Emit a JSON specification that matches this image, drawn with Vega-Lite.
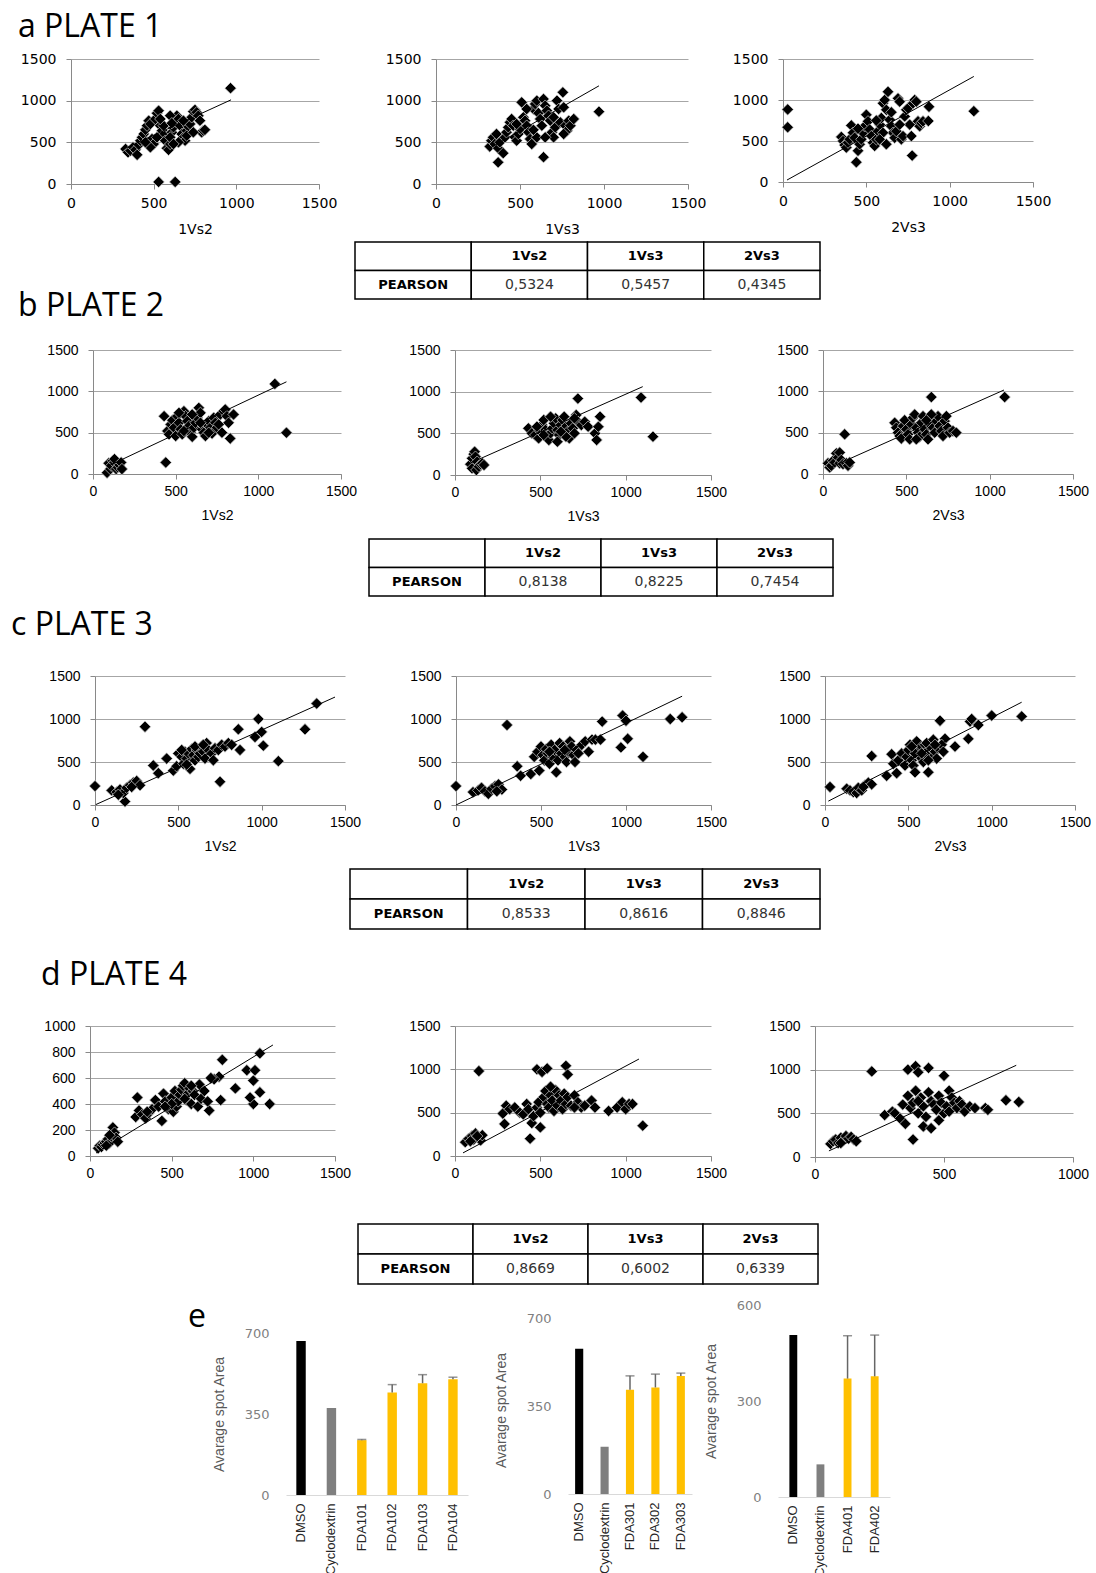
{
"$schema": "https://vega.github.io/schema/vega-lite/v6.json",
"background": "#ffffff",
"padding": 0,
"spacing": 0,
"config": {
  "view": {"stroke": null},
  "font": "DejaVu Sans",
  "axisX": {"grid": false, "domainColor": "#898989", "tickColor": "#898989", "tickSize": 5, "labelFont": "Liberation Sans", "labelFontSize": 14, "labelColor": "#000000", "labelPadding": 5, "labelFlush": false, "labelOverlap": false, "titleFont": "Liberation Sans", "titleFontSize": 14, "titleFontWeight": "normal", "titleColor": "#000000", "titlePadding": 10},
  "axisY": {"grid": true, "gridColor": "#a6a6a6", "domainColor": "#898989", "tickColor": "#898989", "tickSize": 5, "labelFont": "Liberation Sans", "labelFontSize": 14, "labelColor": "#000000", "labelPadding": 10, "labelOverlap": false, "titleFont": "Liberation Sans", "titleFontSize": 14, "titleFontWeight": "normal"}
},
"datasets": {
"a1": [{"x":965,"y":1150},{"x":530,"y":25},{"x":630,"y":25},{"x":330,"y":420},{"x":345,"y":380},{"x":360,"y":400},{"x":375,"y":440},{"x":390,"y":410},{"x":400,"y":350},{"x":410,"y":470},{"x":420,"y":520},{"x":430,"y":560},{"x":440,"y":600},{"x":450,"y":650},{"x":460,"y":700},{"x":470,"y":760},{"x":480,"y":720},{"x":490,"y":540},{"x":500,"y":480},{"x":510,"y":780},{"x":520,"y":850},{"x":530,"y":880},{"x":540,"y":700},{"x":550,"y":640},{"x":560,"y":590},{"x":570,"y":520},{"x":580,"y":430},{"x":590,"y":410},{"x":600,"y":480},{"x":610,"y":620},{"x":620,"y":680},{"x":630,"y":750},{"x":640,"y":820},{"x":650,"y":780},{"x":660,"y":700},{"x":670,"y":600},{"x":680,"y":560},{"x":690,"y":520},{"x":700,"y":640},{"x":710,"y":690},{"x":720,"y":720},{"x":730,"y":800},{"x":740,"y":870},{"x":750,"y":890},{"x":760,"y":860},{"x":770,"y":820},{"x":780,"y":760},{"x":790,"y":620},{"x":800,"y":640},{"x":810,"y":650},{"x":650,"y":500},{"x":600,"y":560},{"x":560,"y":700},{"x":520,"y":560},{"x":480,"y":440},{"x":450,"y":500},{"x":620,"y":480},{"x":700,"y":580},{"x":740,"y":620},{"x":680,"y":760},{"x":540,"y":780},{"x":600,"y":820},{"x":610,"y":730}],
"a1t": [{"x":330,"y":430},{"x":968,"y":1010}],
"a2": [{"x":370,"y":260},{"x":640,"y":322},{"x":755,"y":1100},{"x":970,"y":868},{"x":320,"y":450},{"x":330,"y":520},{"x":340,"y":560},{"x":350,"y":480},{"x":360,"y":600},{"x":370,"y":430},{"x":380,"y":500},{"x":400,"y":370},{"x":410,"y":560},{"x":420,"y":620},{"x":430,"y":680},{"x":440,"y":740},{"x":450,"y":780},{"x":460,"y":700},{"x":470,"y":560},{"x":480,"y":520},{"x":490,"y":600},{"x":500,"y":660},{"x":510,"y":980},{"x":520,"y":800},{"x":530,"y":760},{"x":540,"y":700},{"x":550,"y":620},{"x":560,"y":540},{"x":570,"y":480},{"x":580,"y":900},{"x":590,"y":960},{"x":600,"y":1000},{"x":610,"y":850},{"x":620,"y":780},{"x":630,"y":700},{"x":640,"y":1020},{"x":650,"y":940},{"x":660,"y":880},{"x":670,"y":820},{"x":680,"y":760},{"x":690,"y":620},{"x":700,"y":560},{"x":710,"y":680},{"x":720,"y":1000},{"x":730,"y":900},{"x":740,"y":740},{"x":760,"y":920},{"x":770,"y":700},{"x":780,"y":640},{"x":790,"y":760},{"x":800,"y":700},{"x":820,"y":780},{"x":760,"y":600},{"x":600,"y":560},{"x":540,"y":900},{"x":480,"y":720},{"x":650,"y":560},{"x":700,"y":800},{"x":580,"y":650}],
"a2t": [{"x":320,"y":430},{"x":970,"y":1178}],
"a3": [{"x":28,"y":885},{"x":28,"y":667},{"x":1145,"y":864},{"x":350,"y":550},{"x":360,"y":500},{"x":370,"y":450},{"x":380,"y":420},{"x":390,"y":480},{"x":400,"y":520},{"x":410,"y":690},{"x":420,"y":600},{"x":430,"y":540},{"x":440,"y":241},{"x":450,"y":380},{"x":460,"y":460},{"x":470,"y":520},{"x":480,"y":600},{"x":490,"y":680},{"x":500,"y":820},{"x":510,"y":740},{"x":520,"y":640},{"x":530,"y":560},{"x":540,"y":480},{"x":550,"y":440},{"x":560,"y":520},{"x":570,"y":620},{"x":580,"y":700},{"x":590,"y":780},{"x":600,"y":960},{"x":610,"y":1000},{"x":620,"y":880},{"x":630,"y":1100},{"x":640,"y":760},{"x":650,"y":680},{"x":660,"y":600},{"x":670,"y":540},{"x":680,"y":620},{"x":690,"y":1020},{"x":700,"y":980},{"x":710,"y":520},{"x":720,"y":560},{"x":730,"y":800},{"x":740,"y":880},{"x":750,"y":900},{"x":760,"y":700},{"x":770,"y":560},{"x":780,"y":960},{"x":790,"y":1000},{"x":800,"y":980},{"x":810,"y":740},{"x":820,"y":680},{"x":830,"y":720},{"x":840,"y":740},{"x":775,"y":322},{"x":876,"y":917},{"x":872,"y":744},{"x":600,"y":600},{"x":650,"y":850},{"x":700,"y":700},{"x":560,"y":750},{"x":450,"y":650},{"x":620,"y":460},{"x":580,"y":520}],
"a3t": [{"x":24,"y":24},{"x":1145,"y":1287}],
"b1": [{"x":85,"y":15},{"x":95,"y":130},{"x":105,"y":60},{"x":110,"y":100},{"x":120,"y":160},{"x":130,"y":140},{"x":130,"y":180},{"x":140,"y":60},{"x":150,"y":80},{"x":160,"y":110},{"x":170,"y":140},{"x":175,"y":60},{"x":440,"y":140},{"x":1100,"y":1090},{"x":1170,"y":500},{"x":430,"y":700},{"x":450,"y":520},{"x":460,"y":480},{"x":470,"y":600},{"x":480,"y":650},{"x":490,"y":560},{"x":500,"y":460},{"x":510,"y":700},{"x":520,"y":620},{"x":530,"y":540},{"x":540,"y":480},{"x":550,"y":760},{"x":560,"y":700},{"x":570,"y":640},{"x":580,"y":580},{"x":590,"y":500},{"x":600,"y":450},{"x":610,"y":560},{"x":620,"y":620},{"x":630,"y":680},{"x":640,"y":800},{"x":650,"y":740},{"x":660,"y":540},{"x":670,"y":500},{"x":680,"y":460},{"x":690,"y":600},{"x":700,"y":640},{"x":710,"y":560},{"x":720,"y":490},{"x":730,"y":680},{"x":740,"y":620},{"x":750,"y":560},{"x":770,"y":720},{"x":780,"y":500},{"x":790,"y":760},{"x":800,"y":780},{"x":810,"y":700},{"x":820,"y":620},{"x":830,"y":430},{"x":850,"y":720},{"x":600,"y":720},{"x":550,"y":520},{"x":650,"y":620},{"x":700,"y":500},{"x":520,"y":740},{"x":760,"y":600}],
"b1t": [{"x":85,"y":90},{"x":1170,"y":1115}],
"b2": [{"x":90,"y":130},{"x":100,"y":200},{"x":100,"y":80},{"x":110,"y":250},{"x":115,"y":280},{"x":120,"y":220},{"x":125,"y":60},{"x":130,"y":160},{"x":140,"y":100},{"x":150,"y":130},{"x":160,"y":140},{"x":170,"y":120},{"x":720,"y":917},{"x":1090,"y":930},{"x":1160,"y":460},{"x":430,"y":560},{"x":450,"y":500},{"x":470,"y":480},{"x":490,"y":440},{"x":500,"y":520},{"x":510,"y":600},{"x":520,"y":660},{"x":530,"y":540},{"x":540,"y":470},{"x":550,"y":420},{"x":560,"y":500},{"x":570,"y":560},{"x":580,"y":620},{"x":590,"y":680},{"x":600,"y":540},{"x":610,"y":480},{"x":620,"y":600},{"x":630,"y":660},{"x":640,"y":700},{"x":650,"y":580},{"x":660,"y":520},{"x":670,"y":440},{"x":680,"y":620},{"x":690,"y":560},{"x":700,"y":500},{"x":710,"y":720},{"x":720,"y":640},{"x":740,"y":600},{"x":760,"y":640},{"x":780,"y":580},{"x":820,"y":500},{"x":830,"y":420},{"x":840,"y":580},{"x":850,"y":700},{"x":560,"y":700},{"x":600,"y":400},{"x":650,"y":460},{"x":700,"y":680},{"x":520,"y":480},{"x":480,"y":580},{"x":620,"y":520}],
"b2t": [{"x":82,"y":136},{"x":1100,"y":1060}],
"b3": [{"x":30,"y":130},{"x":40,"y":80},{"x":50,"y":100},{"x":60,"y":160},{"x":70,"y":140},{"x":80,"y":250},{"x":90,"y":200},{"x":100,"y":260},{"x":100,"y":130},{"x":110,"y":170},{"x":120,"y":120},{"x":130,"y":480},{"x":140,"y":130},{"x":150,"y":100},{"x":160,"y":140},{"x":1090,"y":930},{"x":650,"y":930},{"x":430,"y":620},{"x":440,"y":560},{"x":450,"y":500},{"x":460,"y":460},{"x":470,"y":430},{"x":480,"y":580},{"x":490,"y":650},{"x":500,"y":540},{"x":510,"y":480},{"x":520,"y":420},{"x":530,"y":600},{"x":540,"y":680},{"x":550,"y":720},{"x":560,"y":560},{"x":570,"y":500},{"x":580,"y":450},{"x":590,"y":620},{"x":600,"y":700},{"x":610,"y":540},{"x":620,"y":480},{"x":630,"y":420},{"x":640,"y":600},{"x":660,"y":560},{"x":670,"y":500},{"x":680,"y":640},{"x":690,"y":700},{"x":700,"y":580},{"x":710,"y":520},{"x":720,"y":460},{"x":730,"y":640},{"x":740,"y":700},{"x":750,"y":560},{"x":760,"y":500},{"x":780,"y":520},{"x":800,"y":500},{"x":650,"y":720},{"x":560,"y":420},{"x":620,"y":650}],
"b3t": [{"x":36,"y":73},{"x":1086,"y":1016}],
"c1": [{"x":0,"y":220},{"x":300,"y":910},{"x":750,"y":270},{"x":1100,"y":510},{"x":1260,"y":880},{"x":1330,"y":1180},{"x":980,"y":1000},{"x":1000,"y":850},{"x":1010,"y":690},{"x":960,"y":790},{"x":180,"y":40},{"x":100,"y":170},{"x":130,"y":150},{"x":150,"y":180},{"x":170,"y":140},{"x":190,"y":200},{"x":210,"y":230},{"x":230,"y":260},{"x":250,"y":280},{"x":270,"y":230},{"x":220,"y":210},{"x":140,"y":120},{"x":350,"y":460},{"x":380,"y":370},{"x":430,"y":540},{"x":470,"y":400},{"x":490,"y":450},{"x":500,"y":600},{"x":520,"y":560},{"x":530,"y":480},{"x":540,"y":620},{"x":550,"y":540},{"x":560,"y":600},{"x":570,"y":420},{"x":580,"y":650},{"x":590,"y":580},{"x":600,"y":520},{"x":610,"y":640},{"x":620,"y":560},{"x":630,"y":600},{"x":640,"y":680},{"x":650,"y":620},{"x":660,"y":540},{"x":670,"y":720},{"x":680,"y":640},{"x":700,"y":600},{"x":710,"y":520},{"x":720,"y":660},{"x":740,"y":640},{"x":760,"y":700},{"x":780,"y":680},{"x":800,"y":720},{"x":820,"y":700},{"x":860,"y":880},{"x":870,"y":640},{"x":550,"y":470},{"x":600,"y":680},{"x":650,"y":700},{"x":520,"y":640}],
"c1t": [{"x":5,"y":5},{"x":1440,"y":1255}],
"c2": [{"x":300,"y":930},{"x":1100,"y":560},{"x":1260,"y":1000},{"x":1330,"y":1020},{"x":980,"y":1040},{"x":1000,"y":980},{"x":1010,"y":770},{"x":970,"y":670},{"x":860,"y":970},{"x":0,"y":220},{"x":100,"y":150},{"x":130,"y":170},{"x":150,"y":200},{"x":170,"y":160},{"x":190,"y":130},{"x":210,"y":190},{"x":230,"y":220},{"x":250,"y":240},{"x":270,"y":180},{"x":240,"y":160},{"x":360,"y":450},{"x":380,"y":340},{"x":440,"y":360},{"x":460,"y":560},{"x":480,"y":620},{"x":490,"y":400},{"x":500,"y":680},{"x":510,"y":580},{"x":520,"y":520},{"x":530,"y":650},{"x":540,"y":600},{"x":550,"y":480},{"x":560,"y":700},{"x":570,"y":560},{"x":580,"y":640},{"x":590,"y":380},{"x":600,"y":520},{"x":610,"y":720},{"x":620,"y":600},{"x":630,"y":680},{"x":640,"y":560},{"x":650,"y":500},{"x":660,"y":620},{"x":670,"y":740},{"x":680,"y":680},{"x":690,"y":580},{"x":700,"y":500},{"x":710,"y":640},{"x":720,"y":600},{"x":740,"y":700},{"x":760,"y":740},{"x":780,"y":620},{"x":800,"y":760},{"x":820,"y":760},{"x":850,"y":760},{"x":550,"y":620},{"x":640,"y":640}],
"c2t": [{"x":0,"y":0},{"x":1330,"y":1265}],
"c3": [{"x":30,"y":210},{"x":280,"y":570},{"x":690,"y":980},{"x":870,"y":970},{"x":880,"y":1000},{"x":1000,"y":1040},{"x":1180,"y":1030},{"x":860,"y":770},{"x":920,"y":930},{"x":780,"y":680},{"x":720,"y":770},{"x":130,"y":190},{"x":150,"y":170},{"x":170,"y":150},{"x":190,"y":140},{"x":200,"y":200},{"x":220,"y":170},{"x":240,"y":230},{"x":260,"y":260},{"x":280,"y":240},{"x":230,"y":210},{"x":370,"y":340},{"x":400,"y":590},{"x":410,"y":480},{"x":430,"y":370},{"x":440,"y":520},{"x":460,"y":600},{"x":480,"y":460},{"x":490,"y":560},{"x":500,"y":640},{"x":510,"y":700},{"x":520,"y":520},{"x":530,"y":460},{"x":540,"y":380},{"x":550,"y":740},{"x":560,"y":620},{"x":570,"y":560},{"x":580,"y":680},{"x":590,"y":500},{"x":600,"y":700},{"x":610,"y":720},{"x":620,"y":380},{"x":630,"y":640},{"x":640,"y":580},{"x":650,"y":760},{"x":660,"y":620},{"x":670,"y":540},{"x":680,"y":660},{"x":700,"y":700},{"x":710,"y":620},{"x":540,"y":600},{"x":600,"y":600},{"x":620,"y":520},{"x":660,"y":700},{"x":520,"y":680},{"x":580,"y":600}],
"c3t": [{"x":20,"y":45},{"x":1180,"y":1195}],
"d1": [{"x":50,"y":60},{"x":60,"y":80},{"x":70,"y":70},{"x":80,"y":90},{"x":90,"y":100},{"x":100,"y":110},{"x":110,"y":130},{"x":120,"y":100},{"x":130,"y":150},{"x":140,"y":220},{"x":150,"y":180},{"x":160,"y":140},{"x":170,"y":110},{"x":120,"y":160},{"x":100,"y":80},{"x":1040,"y":790},{"x":810,"y":740},{"x":1100,"y":400},{"x":1040,"y":490},{"x":1000,"y":400},{"x":980,"y":450},{"x":960,"y":660},{"x":1010,"y":660},{"x":1000,"y":580},{"x":890,"y":520},{"x":730,"y":350},{"x":800,"y":430},{"x":790,"y":610},{"x":760,"y":590},{"x":280,"y":300},{"x":290,"y":450},{"x":300,"y":350},{"x":320,"y":320},{"x":340,"y":290},{"x":360,"y":330},{"x":380,"y":360},{"x":400,"y":430},{"x":420,"y":380},{"x":440,"y":270},{"x":450,"y":480},{"x":460,"y":420},{"x":480,"y":360},{"x":500,"y":450},{"x":510,"y":340},{"x":520,"y":500},{"x":530,"y":380},{"x":540,"y":420},{"x":550,"y":470},{"x":560,"y":510},{"x":570,"y":540},{"x":580,"y":560},{"x":590,"y":430},{"x":600,"y":480},{"x":610,"y":520},{"x":620,"y":400},{"x":630,"y":500},{"x":640,"y":470},{"x":660,"y":380},{"x":670,"y":550},{"x":680,"y":440},{"x":700,"y":500},{"x":720,"y":420},{"x":740,"y":600},{"x":580,"y":440},{"x":500,"y":400},{"x":620,"y":540},{"x":460,"y":380},{"x":350,"y":340}],
"d1t": [{"x":37,"y":23},{"x":1120,"y":854}],
"d2": [{"x":60,"y":160},{"x":80,"y":200},{"x":100,"y":230},{"x":120,"y":260},{"x":140,"y":210},{"x":150,"y":180},{"x":160,"y":240},{"x":110,"y":190},{"x":90,"y":170},{"x":130,"y":230},{"x":140,"y":980},{"x":1100,"y":350},{"x":440,"y":200},{"x":480,"y":1000},{"x":510,"y":970},{"x":540,"y":1010},{"x":650,"y":1040},{"x":660,"y":940},{"x":500,"y":330},{"x":280,"y":490},{"x":300,"y":580},{"x":290,"y":370},{"x":320,"y":540},{"x":350,"y":560},{"x":380,"y":500},{"x":400,"y":480},{"x":420,"y":600},{"x":430,"y":540},{"x":450,"y":380},{"x":460,"y":460},{"x":480,"y":560},{"x":490,"y":620},{"x":500,"y":500},{"x":520,"y":680},{"x":530,"y":750},{"x":540,"y":600},{"x":550,"y":560},{"x":560,"y":700},{"x":570,"y":640},{"x":580,"y":520},{"x":590,"y":760},{"x":600,"y":580},{"x":610,"y":700},{"x":620,"y":640},{"x":630,"y":540},{"x":640,"y":720},{"x":650,"y":600},{"x":660,"y":680},{"x":680,"y":580},{"x":700,"y":700},{"x":720,"y":620},{"x":740,"y":560},{"x":760,"y":580},{"x":800,"y":640},{"x":820,"y":560},{"x":900,"y":520},{"x":950,"y":560},{"x":980,"y":620},{"x":1000,"y":540},{"x":1020,"y":600},{"x":1040,"y":600},{"x":700,"y":560},{"x":560,"y":800}],
"d2t": [{"x":47,"y":36},{"x":1078,"y":1119}],
"d3": [{"x":60,"y":150},{"x":70,"y":180},{"x":80,"y":200},{"x":90,"y":160},{"x":100,"y":220},{"x":110,"y":190},{"x":120,"y":240},{"x":130,"y":210},{"x":140,"y":230},{"x":150,"y":200},{"x":160,"y":180},{"x":100,"y":160},{"x":220,"y":980},{"x":360,"y":1000},{"x":390,"y":1040},{"x":400,"y":970},{"x":440,"y":1020},{"x":500,"y":930},{"x":380,"y":200},{"x":420,"y":350},{"x":450,"y":330},{"x":740,"y":650},{"x":790,"y":630},{"x":270,"y":480},{"x":300,"y":520},{"x":310,"y":500},{"x":330,"y":440},{"x":340,"y":600},{"x":350,"y":380},{"x":360,"y":700},{"x":370,"y":560},{"x":380,"y":620},{"x":390,"y":760},{"x":400,"y":500},{"x":410,"y":680},{"x":420,"y":580},{"x":430,"y":460},{"x":440,"y":740},{"x":450,"y":640},{"x":460,"y":600},{"x":470,"y":540},{"x":480,"y":700},{"x":490,"y":620},{"x":500,"y":500},{"x":510,"y":580},{"x":520,"y":760},{"x":530,"y":680},{"x":540,"y":620},{"x":550,"y":560},{"x":560,"y":640},{"x":570,"y":600},{"x":580,"y":520},{"x":600,"y":580},{"x":620,"y":560},{"x":660,"y":560},{"x":670,"y":540},{"x":480,"y":420},{"x":400,"y":640},{"x":520,"y":520}],
"d3t": [{"x":54,"y":70},{"x":780,"y":1050}],
"ta": [{"c":"c1","r":"r1","t":"","b":1},{"c":"c2","r":"r1","t":"1Vs2","b":1},{"c":"c3","r":"r1","t":"1Vs3","b":1},{"c":"c4","r":"r1","t":"2Vs3","b":1},{"c":"c1","r":"r2","t":"PEARSON","b":1},{"c":"c2","r":"r2","t":"0,5324","b":0},{"c":"c3","r":"r2","t":"0,5457","b":0},{"c":"c4","r":"r2","t":"0,4345","b":0}],
"tb": [{"c":"c1","r":"r1","t":"","b":1},{"c":"c2","r":"r1","t":"1Vs2","b":1},{"c":"c3","r":"r1","t":"1Vs3","b":1},{"c":"c4","r":"r1","t":"2Vs3","b":1},{"c":"c1","r":"r2","t":"PEARSON","b":1},{"c":"c2","r":"r2","t":"0,8138","b":0},{"c":"c3","r":"r2","t":"0,8225","b":0},{"c":"c4","r":"r2","t":"0,7454","b":0}],
"tc": [{"c":"c1","r":"r1","t":"","b":1},{"c":"c2","r":"r1","t":"1Vs2","b":1},{"c":"c3","r":"r1","t":"1Vs3","b":1},{"c":"c4","r":"r1","t":"2Vs3","b":1},{"c":"c1","r":"r2","t":"PEARSON","b":1},{"c":"c2","r":"r2","t":"0,8533","b":0},{"c":"c3","r":"r2","t":"0,8616","b":0},{"c":"c4","r":"r2","t":"0,8846","b":0}],
"td": [{"c":"c1","r":"r1","t":"","b":1},{"c":"c2","r":"r1","t":"1Vs2","b":1},{"c":"c3","r":"r1","t":"1Vs3","b":1},{"c":"c4","r":"r1","t":"2Vs3","b":1},{"c":"c1","r":"r2","t":"PEARSON","b":1},{"c":"c2","r":"r2","t":"0,8669","b":0},{"c":"c3","r":"r2","t":"0,6002","b":0},{"c":"c4","r":"r2","t":"0,6339","b":0}],
"e1": [{"k":"DMSO","g":"D","v":665},{"k":"Cyclodextrin","g":"C","v":376},{"k":"FDA101","g":"F","v":237,"hi":240},{"k":"FDA102","g":"F","v":443,"hi":477},{"k":"FDA103","g":"F","v":483,"hi":520},{"k":"FDA104","g":"F","v":500,"hi":509}],
"e2": [{"k":"DMSO","g":"D","v":578},{"k":"Cyclodextrin","g":"C","v":188},{"k":"FDA301","g":"F","v":415,"hi":470},{"k":"FDA302","g":"F","v":424,"hi":477},{"k":"FDA303","g":"F","v":470,"hi":481}],
"e3": [{"k":"DMSO","g":"D","v":506},{"k":"Cyclodextrin","g":"C","v":102},{"k":"FDA401","g":"F","v":370,"hi":504},{"k":"FDA402","g":"F","v":377,"hi":506}],
"sp": [{"z":0}]
},
"vconcat": [
{"width":1,"height":1,"data":{"name":"sp"},"mark":{"type":"point","opacity":0},"encoding":{},
 "title":{"text":"a PLATE 1","orient":"bottom","anchor":"start","frame":"group","dx":15,"offset":31,"baseline":"alphabetic","font":"Open Sans","fontSize":32,"fontWeight":"normal","color":"#000000"}},
{"width":1,"height":8,"data":{"name":"sp"},"mark":{"type":"point","opacity":0},"encoding":{}},
{"bounds":"flush","spacing":0,"hconcat":[
  {"width":68,"height":182,"data":{"name":"sp"},"mark":{"type":"point","opacity":0},"encoding":{}},
  {"width":248,"height":125,
   "layer":[
    {"data":{"name":"a1"},"mark":{"type":"point","shape":"diamond","filled":true,"size":130,"fill":"#000000","stroke":"#d0d0d0","strokeWidth":0.7,"opacity":1},
     "encoding":{"x":{"field":"x","type":"quantitative","scale":{"domain":[0,1500],"nice":false},"axis":{"values":[0,500,1000,1500],"format":"d","title":"1Vs2","labelFont":"DejaVu Sans","labelFontSize":14,"titleFont":"DejaVu Sans","titleFontSize":14,"labelPadding":7,"titlePadding":12}},
                 "y":{"field":"y","type":"quantitative","scale":{"domain":[0,1500],"nice":false},"axis":{"values":[0,500,1000,1500],"format":"d","title":null,"labelFont":"DejaVu Sans","labelFontSize":14}}}},
    {"data":{"name":"a1t"},"mark":{"type":"line","color":"#000000","strokeWidth":1},"encoding":{"x":{"field":"x","type":"quantitative"},"y":{"field":"y","type":"quantitative"}}}
   ]},
  {"width":117,"height":1,"data":{"name":"sp"},"mark":{"type":"point","opacity":0},"encoding":{}},
  {"width":252,"height":125,
   "layer":[
    {"data":{"name":"a2"},"mark":{"type":"point","shape":"diamond","filled":true,"size":130,"fill":"#000000","stroke":"#d0d0d0","strokeWidth":0.7,"opacity":1},
     "encoding":{"x":{"field":"x","type":"quantitative","scale":{"domain":[0,1500],"nice":false},"axis":{"values":[0,500,1000,1500],"format":"d","title":"1Vs3","labelFont":"DejaVu Sans","labelFontSize":14,"titleFont":"DejaVu Sans","titleFontSize":14,"labelPadding":7,"titlePadding":12}},
                 "y":{"field":"y","type":"quantitative","scale":{"domain":[0,1500],"nice":false},"axis":{"values":[0,500,1000,1500],"format":"d","title":null,"labelFont":"DejaVu Sans","labelFontSize":14}}}},
    {"data":{"name":"a2t"},"mark":{"type":"line","color":"#000000","strokeWidth":1},"encoding":{"x":{"field":"x","type":"quantitative"},"y":{"field":"y","type":"quantitative"}}}
   ]},
  {"width":95,"height":1,"data":{"name":"sp"},"mark":{"type":"point","opacity":0},"encoding":{}},
  {"width":250,"height":123,
   "layer":[
    {"data":{"name":"a3"},"mark":{"type":"point","shape":"diamond","filled":true,"size":130,"fill":"#000000","stroke":"#d0d0d0","strokeWidth":0.7,"opacity":1},
     "encoding":{"x":{"field":"x","type":"quantitative","scale":{"domain":[0,1500],"nice":false},"axis":{"values":[0,500,1000,1500],"format":"d","title":"2Vs3","labelFont":"DejaVu Sans","labelFontSize":14,"titleFont":"DejaVu Sans","titleFontSize":14,"labelPadding":7,"titlePadding":12}},
                 "y":{"field":"y","type":"quantitative","scale":{"domain":[0,1500],"nice":false},"axis":{"values":[0,500,1000,1500],"format":"d","title":null,"labelFont":"DejaVu Sans","labelFontSize":14}}}},
    {"data":{"name":"a3t"},"mark":{"type":"line","color":"#000000","strokeWidth":1},"encoding":{"x":{"field":"x","type":"quantitative"},"y":{"field":"y","type":"quantitative"}}}
   ]}
]},
{"bounds":"flush","spacing":0,"hconcat":[
  {"width":352,"height":57,"data":{"name":"sp"},"mark":{"type":"point","opacity":0},"encoding":{},
   "title":{"text":"b PLATE 2","orient":"bottom","anchor":"start","frame":"group","dx":15,"offset":17,"baseline":"alphabetic","font":"Open Sans","fontSize":32,"fontWeight":"normal","color":"#000000"}},
  {"width":465,"height":57,"data":{"name":"ta"},"layer":[
    {"mark":{"type":"rect","fill":"#ffffff","stroke":"#000000","strokeWidth":1.5},"encoding":{"x":{"field":"c","type":"nominal","axis":null,"scale":{"paddingInner":0,"paddingOuter":0}},"y":{"field":"r","type":"nominal","axis":null,"scale":{"paddingInner":0,"paddingOuter":0}}}},
    {"transform":[{"filter":"datum.b == 1"}],"mark":{"type":"text","font":"DejaVu Sans","fontSize":13,"fontWeight":"bold","color":"#000000"},"encoding":{"x":{"field":"c","type":"nominal","axis":null},"y":{"field":"r","type":"nominal","axis":null},"text":{"field":"t","type":"nominal"}}},
    {"transform":[{"filter":"datum.b == 0"}],"mark":{"type":"text","font":"DejaVu Sans","fontSize":14,"color":"#333333"},"encoding":{"x":{"field":"c","type":"nominal","axis":null},"y":{"field":"r","type":"nominal","axis":null},"text":{"field":"t","type":"nominal"}}}
  ]}
]},
{"width":1,"height":21,"data":{"name":"sp"},"mark":{"type":"point","opacity":0},"encoding":{}},
{"bounds":"flush","spacing":0,"hconcat":[
  {"width":90,"height":188,"data":{"name":"sp"},"mark":{"type":"point","opacity":0},"encoding":{}},
  {"width":248,"height":124,
   "layer":[
    {"data":{"name":"b1"},"mark":{"type":"point","shape":"diamond","filled":true,"size":130,"fill":"#000000","stroke":"#d0d0d0","strokeWidth":0.7,"opacity":1},
     "encoding":{"x":{"field":"x","type":"quantitative","scale":{"domain":[0,1500],"nice":false},"axis":{"values":[0,500,1000,1500],"format":"d","title":"1Vs2"}},
                 "y":{"field":"y","type":"quantitative","scale":{"domain":[0,1500],"nice":false},"axis":{"values":[0,500,1000,1500],"format":"d","title":null}}}},
    {"data":{"name":"b1t"},"mark":{"type":"line","color":"#000000","strokeWidth":1},"encoding":{"x":{"field":"x","type":"quantitative"},"y":{"field":"y","type":"quantitative"}}}
   ]},
  {"width":114,"height":1,"data":{"name":"sp"},"mark":{"type":"point","opacity":0},"encoding":{}},
  {"width":256,"height":125,
   "layer":[
    {"data":{"name":"b2"},"mark":{"type":"point","shape":"diamond","filled":true,"size":130,"fill":"#000000","stroke":"#d0d0d0","strokeWidth":0.7,"opacity":1},
     "encoding":{"x":{"field":"x","type":"quantitative","scale":{"domain":[0,1500],"nice":false},"axis":{"values":[0,500,1000,1500],"format":"d","title":"1Vs3"}},
                 "y":{"field":"y","type":"quantitative","scale":{"domain":[0,1500],"nice":false},"axis":{"values":[0,500,1000,1500],"format":"d","title":null}}}},
    {"data":{"name":"b2t"},"mark":{"type":"line","color":"#000000","strokeWidth":1},"encoding":{"x":{"field":"x","type":"quantitative"},"y":{"field":"y","type":"quantitative"}}}
   ]},
  {"width":112,"height":1,"data":{"name":"sp"},"mark":{"type":"point","opacity":0},"encoding":{}},
  {"width":250,"height":124,
   "layer":[
    {"data":{"name":"b3"},"mark":{"type":"point","shape":"diamond","filled":true,"size":130,"fill":"#000000","stroke":"#d0d0d0","strokeWidth":0.7,"opacity":1},
     "encoding":{"x":{"field":"x","type":"quantitative","scale":{"domain":[0,1500],"nice":false},"axis":{"values":[0,500,1000,1500],"format":"d","title":"2Vs3"}},
                 "y":{"field":"y","type":"quantitative","scale":{"domain":[0,1500],"nice":false},"axis":{"values":[0,500,1000,1500],"format":"d","title":null}}}},
    {"data":{"name":"b3t"},"mark":{"type":"line","color":"#000000","strokeWidth":1},"encoding":{"x":{"field":"x","type":"quantitative"},"y":{"field":"y","type":"quantitative"}}}
   ]}
]},
{"bounds":"flush","spacing":0,"hconcat":[
  {"width":366,"height":57,"data":{"name":"sp"},"mark":{"type":"point","opacity":0},"encoding":{},
   "title":{"text":"c PLATE 3","orient":"bottom","anchor":"start","frame":"group","dx":8,"offset":39,"baseline":"alphabetic","font":"Open Sans","fontSize":32,"fontWeight":"normal","color":"#000000"}},
  {"width":464,"height":57,"data":{"name":"tb"},"layer":[
    {"mark":{"type":"rect","fill":"#ffffff","stroke":"#000000","strokeWidth":1.5},"encoding":{"x":{"field":"c","type":"nominal","axis":null,"scale":{"paddingInner":0,"paddingOuter":0}},"y":{"field":"r","type":"nominal","axis":null,"scale":{"paddingInner":0,"paddingOuter":0}}}},
    {"transform":[{"filter":"datum.b == 1"}],"mark":{"type":"text","font":"DejaVu Sans","fontSize":13,"fontWeight":"bold","color":"#000000"},"encoding":{"x":{"field":"c","type":"nominal","axis":null},"y":{"field":"r","type":"nominal","axis":null},"text":{"field":"t","type":"nominal"}}},
    {"transform":[{"filter":"datum.b == 0"}],"mark":{"type":"text","font":"DejaVu Sans","fontSize":14,"color":"#333333"},"encoding":{"x":{"field":"c","type":"nominal","axis":null},"y":{"field":"r","type":"nominal","axis":null},"text":{"field":"t","type":"nominal"}}}
  ]}
]},
{"width":1,"height":28,"data":{"name":"sp"},"mark":{"type":"point","opacity":0},"encoding":{}},
{"bounds":"flush","spacing":0,"hconcat":[
  {"width":92,"height":192,"data":{"name":"sp"},"mark":{"type":"point","opacity":0},"encoding":{}},
  {"width":250,"height":129,
   "layer":[
    {"data":{"name":"c1"},"mark":{"type":"point","shape":"diamond","filled":true,"size":130,"fill":"#000000","stroke":"#d0d0d0","strokeWidth":0.7,"opacity":1},
     "encoding":{"x":{"field":"x","type":"quantitative","scale":{"domain":[0,1500],"nice":false},"axis":{"values":[0,500,1000,1500],"format":"d","title":"1Vs2"}},
                 "y":{"field":"y","type":"quantitative","scale":{"domain":[0,1500],"nice":false},"axis":{"values":[0,500,1000,1500],"format":"d","title":null}}}},
    {"data":{"name":"c1t"},"mark":{"type":"line","color":"#000000","strokeWidth":1},"encoding":{"x":{"field":"x","type":"quantitative"},"y":{"field":"y","type":"quantitative"}}}
   ]},
  {"width":111,"height":1,"data":{"name":"sp"},"mark":{"type":"point","opacity":0},"encoding":{}},
  {"width":255,"height":129,
   "layer":[
    {"data":{"name":"c2"},"mark":{"type":"point","shape":"diamond","filled":true,"size":130,"fill":"#000000","stroke":"#d0d0d0","strokeWidth":0.7,"opacity":1},
     "encoding":{"x":{"field":"x","type":"quantitative","scale":{"domain":[0,1500],"nice":false},"axis":{"values":[0,500,1000,1500],"format":"d","title":"1Vs3"}},
                 "y":{"field":"y","type":"quantitative","scale":{"domain":[0,1500],"nice":false},"axis":{"values":[0,500,1000,1500],"format":"d","title":null}}}},
    {"data":{"name":"c2t"},"mark":{"type":"line","color":"#000000","strokeWidth":1},"encoding":{"x":{"field":"x","type":"quantitative"},"y":{"field":"y","type":"quantitative"}}}
   ]},
  {"width":114,"height":1,"data":{"name":"sp"},"mark":{"type":"point","opacity":0},"encoding":{}},
  {"width":250,"height":129,
   "layer":[
    {"data":{"name":"c3"},"mark":{"type":"point","shape":"diamond","filled":true,"size":130,"fill":"#000000","stroke":"#d0d0d0","strokeWidth":0.7,"opacity":1},
     "encoding":{"x":{"field":"x","type":"quantitative","scale":{"domain":[0,1500],"nice":false},"axis":{"values":[0,500,1000,1500],"format":"d","title":"2Vs3"}},
                 "y":{"field":"y","type":"quantitative","scale":{"domain":[0,1500],"nice":false},"axis":{"values":[0,500,1000,1500],"format":"d","title":null}}}},
    {"data":{"name":"c3t"},"mark":{"type":"line","color":"#000000","strokeWidth":1},"encoding":{"x":{"field":"x","type":"quantitative"},"y":{"field":"y","type":"quantitative"}}}
   ]}
]},
{"bounds":"flush","spacing":0,"hconcat":[
  {"width":347,"height":60,"data":{"name":"sp"},"mark":{"type":"point","opacity":0},"encoding":{},
   "title":{"text":"d PLATE 4","orient":"bottom","anchor":"start","frame":"group","dx":38,"offset":56,"baseline":"alphabetic","font":"Open Sans","fontSize":32,"fontWeight":"normal","color":"#000000"}},
  {"width":470,"height":60,"data":{"name":"tc"},"layer":[
    {"mark":{"type":"rect","fill":"#ffffff","stroke":"#000000","strokeWidth":1.5},"encoding":{"x":{"field":"c","type":"nominal","axis":null,"scale":{"paddingInner":0,"paddingOuter":0}},"y":{"field":"r","type":"nominal","axis":null,"scale":{"paddingInner":0,"paddingOuter":0}}}},
    {"transform":[{"filter":"datum.b == 1"}],"mark":{"type":"text","font":"DejaVu Sans","fontSize":13,"fontWeight":"bold","color":"#000000"},"encoding":{"x":{"field":"c","type":"nominal","axis":null},"y":{"field":"r","type":"nominal","axis":null},"text":{"field":"t","type":"nominal"}}},
    {"transform":[{"filter":"datum.b == 0"}],"mark":{"type":"text","font":"DejaVu Sans","fontSize":14,"color":"#333333"},"encoding":{"x":{"field":"c","type":"nominal","axis":null},"y":{"field":"r","type":"nominal","axis":null},"text":{"field":"t","type":"nominal"}}}
  ]}
]},
{"width":1,"height":28,"data":{"name":"sp"},"mark":{"type":"point","opacity":0},"encoding":{}},
{"bounds":"flush","spacing":0,"hconcat":[
  {"width":87,"height":197,"data":{"name":"sp"},"mark":{"type":"point","opacity":0},"encoding":{}},
  {"width":245,"height":130,
   "layer":[
    {"data":{"name":"d1"},"mark":{"type":"point","shape":"diamond","filled":true,"size":130,"fill":"#000000","stroke":"#d0d0d0","strokeWidth":0.7,"opacity":1},
     "encoding":{"x":{"field":"x","type":"quantitative","scale":{"domain":[0,1500],"nice":false},"axis":{"values":[0,500,1000,1500],"format":"d","title":null}},
                 "y":{"field":"y","type":"quantitative","scale":{"domain":[0,1000],"nice":false},"axis":{"values":[0,200,400,600,800,1000],"tickCount":6,"format":"d","title":null}}}},
    {"data":{"name":"d1t"},"mark":{"type":"line","color":"#000000","strokeWidth":1},"encoding":{"x":{"field":"x","type":"quantitative"},"y":{"field":"y","type":"quantitative"}}}
   ]},
  {"width":120,"height":1,"data":{"name":"sp"},"mark":{"type":"point","opacity":0},"encoding":{}},
  {"width":256,"height":130,
   "layer":[
    {"data":{"name":"d2"},"mark":{"type":"point","shape":"diamond","filled":true,"size":130,"fill":"#000000","stroke":"#d0d0d0","strokeWidth":0.7,"opacity":1},
     "encoding":{"x":{"field":"x","type":"quantitative","scale":{"domain":[0,1500],"nice":false},"axis":{"values":[0,500,1000,1500],"format":"d","title":null}},
                 "y":{"field":"y","type":"quantitative","scale":{"domain":[0,1500],"nice":false},"axis":{"values":[0,500,1000,1500],"format":"d","title":null}}}},
    {"data":{"name":"d2t"},"mark":{"type":"line","color":"#000000","strokeWidth":1},"encoding":{"x":{"field":"x","type":"quantitative"},"y":{"field":"y","type":"quantitative"}}}
   ]},
  {"width":104,"height":1,"data":{"name":"sp"},"mark":{"type":"point","opacity":0},"encoding":{}},
  {"width":258,"height":131,
   "layer":[
    {"data":{"name":"d3"},"mark":{"type":"point","shape":"diamond","filled":true,"size":130,"fill":"#000000","stroke":"#d0d0d0","strokeWidth":0.7,"opacity":1},
     "encoding":{"x":{"field":"x","type":"quantitative","scale":{"domain":[0,1000],"nice":false},"axis":{"values":[0,500,1000],"format":"d","title":null}},
                 "y":{"field":"y","type":"quantitative","scale":{"domain":[0,1500],"nice":false},"axis":{"values":[0,500,1000,1500],"format":"d","title":null}}}},
    {"data":{"name":"d3t"},"mark":{"type":"line","color":"#000000","strokeWidth":1},"encoding":{"x":{"field":"x","type":"quantitative"},"y":{"field":"y","type":"quantitative"}}}
   ]}
]},
{"bounds":"flush","spacing":0,"hconcat":[
  {"width":355,"height":60,"data":{"name":"sp"},"mark":{"type":"point","opacity":0},"encoding":{}},
  {"width":460,"height":60,"data":{"name":"td"},"layer":[
    {"mark":{"type":"rect","fill":"#ffffff","stroke":"#000000","strokeWidth":1.5},"encoding":{"x":{"field":"c","type":"nominal","axis":null,"scale":{"paddingInner":0,"paddingOuter":0}},"y":{"field":"r","type":"nominal","axis":null,"scale":{"paddingInner":0,"paddingOuter":0}}}},
    {"transform":[{"filter":"datum.b == 1"}],"mark":{"type":"text","font":"DejaVu Sans","fontSize":13,"fontWeight":"bold","color":"#000000"},"encoding":{"x":{"field":"c","type":"nominal","axis":null},"y":{"field":"r","type":"nominal","axis":null},"text":{"field":"t","type":"nominal"}}},
    {"transform":[{"filter":"datum.b == 0"}],"mark":{"type":"text","font":"DejaVu Sans","fontSize":14,"color":"#333333"},"encoding":{"x":{"field":"c","type":"nominal","axis":null},"y":{"field":"r","type":"nominal","axis":null},"text":{"field":"t","type":"nominal"}}}
  ]}
]},
{"width":1,"height":14,"data":{"name":"sp"},"mark":{"type":"point","opacity":0},"encoding":{}},
{"bounds":"flush","spacing":0,"hconcat":[
  {"width":283,"height":1,"data":{"name":"sp"},"mark":{"type":"point","opacity":0},"encoding":{}},
  {"width":182,"height":190,"data":{"name":"e1"},
   "title":{"text":"e","anchor":"start","frame":"group","dx":-98,"offset":0,"dy":54,"baseline":"alphabetic","font":"Open Sans","fontSize":32,"fontWeight":"normal","color":"#000000"},
   "encoding":{"x":{"field":"k","type":"nominal","sort":null,"scale":{"paddingInner":0.69,"paddingOuter":0.34},"axis":{"title":null,"labelAngle":-90,"domainColor":"#d9d9d9","ticks":false,"grid":false,"labelFont":"Liberation Sans","labelFontSize":13,"labelColor":"#262626","labelPadding":8}}},
   "layer":[
    {"mark":{"type":"bar"},"encoding":{"y":{"field":"v","type":"quantitative","scale":{"domain":[0,821],"nice":false},"axis":{"values":[0,350,700],"format":"d","title":"Avarage spot Area","titleY":109,"grid":false,"domain":false,"ticks":false,"labelFont":"DejaVu Sans","labelFontSize":13,"labelColor":"#7f7f7f","labelPadding":17,"titleFont":"Liberation Sans","titleFontSize":14,"titleColor":"#595959","titlePadding":18}},"color":{"field":"g","type":"nominal","scale":{"domain":["D","C","F"],"range":["#000000","#7f7f7f","#ffc000"]},"legend":null}}},
    {"transform":[{"filter":"isValid(datum.hi)"}],"mark":{"type":"rule","color":"#666666","strokeWidth":1.5},"encoding":{"y":{"field":"v","type":"quantitative"},"y2":{"field":"hi"}}},
    {"transform":[{"filter":"isValid(datum.hi)"}],"mark":{"type":"tick","color":"#666666","thickness":1.5,"size":9},"encoding":{"y":{"field":"hi","type":"quantitative"}}}
   ]},
  {"width":100,"height":1,"data":{"name":"sp"},"mark":{"type":"point","opacity":0},"encoding":{}},
  {"width":124,"height":189,"data":{"name":"e2"},
   "encoding":{"x":{"field":"k","type":"nominal","sort":null,"scale":{"paddingInner":0.68,"paddingOuter":0.28},"axis":{"title":null,"labelAngle":-90,"domainColor":"#d9d9d9","ticks":false,"grid":false,"labelFont":"Liberation Sans","labelFontSize":13,"labelColor":"#262626","labelPadding":8}}},
   "layer":[
    {"mark":{"type":"bar"},"encoding":{"y":{"field":"v","type":"quantitative","scale":{"domain":[0,752],"nice":false},"axis":{"values":[0,350,700],"format":"d","title":"Avarage spot Area","titleY":105,"grid":false,"domain":false,"ticks":false,"labelFont":"DejaVu Sans","labelFontSize":13,"labelColor":"#7f7f7f","labelPadding":17,"titleFont":"Liberation Sans","titleFontSize":14,"titleColor":"#595959","titlePadding":18}},"color":{"field":"g","type":"nominal","scale":{"domain":["D","C","F"],"range":["#000000","#7f7f7f","#ffc000"]},"legend":null}}},
    {"transform":[{"filter":"isValid(datum.hi)"}],"mark":{"type":"rule","color":"#666666","strokeWidth":1.5},"encoding":{"y":{"field":"v","type":"quantitative"},"y2":{"field":"hi"}}},
    {"transform":[{"filter":"isValid(datum.hi)"}],"mark":{"type":"tick","color":"#666666","thickness":1.5,"size":9},"encoding":{"y":{"field":"hi","type":"quantitative"}}}
   ]},
  {"width":86,"height":1,"data":{"name":"sp"},"mark":{"type":"point","opacity":0},"encoding":{}},
  {"width":112,"height":192,"data":{"name":"e3"},
   "encoding":{"x":{"field":"k","type":"nominal","sort":null,"scale":{"paddingInner":0.71,"paddingOuter":0.42},"axis":{"title":null,"labelAngle":-90,"domainColor":"#d9d9d9","ticks":false,"grid":false,"labelFont":"Liberation Sans","labelFontSize":13,"labelColor":"#262626","labelPadding":8}}},
   "layer":[
    {"mark":{"type":"bar"},"encoding":{"y":{"field":"v","type":"quantitative","scale":{"domain":[0,600],"nice":false},"axis":{"values":[0,300,600],"format":"d","title":"Avarage spot Area","grid":false,"domain":false,"ticks":false,"labelFont":"DejaVu Sans","labelFontSize":13,"labelColor":"#7f7f7f","labelPadding":17,"titleFont":"Liberation Sans","titleFontSize":14,"titleColor":"#595959","titlePadding":18}},"color":{"field":"g","type":"nominal","scale":{"domain":["D","C","F"],"range":["#000000","#7f7f7f","#ffc000"]},"legend":null}}},
    {"transform":[{"filter":"isValid(datum.hi)"}],"mark":{"type":"rule","color":"#666666","strokeWidth":1.5},"encoding":{"y":{"field":"v","type":"quantitative"},"y2":{"field":"hi"}}},
    {"transform":[{"filter":"isValid(datum.hi)"}],"mark":{"type":"tick","color":"#666666","thickness":1.5,"size":9},"encoding":{"y":{"field":"hi","type":"quantitative"}}}
   ]}
]}
]
}
